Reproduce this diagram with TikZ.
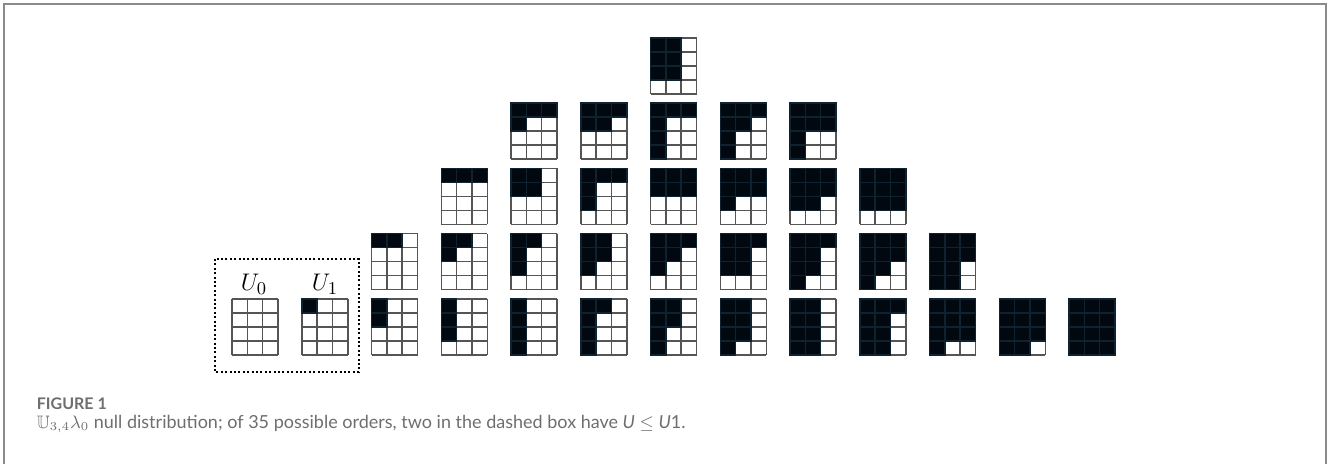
\documentclass[tikz,border=0pt]{standalone}
\usepackage{amsmath,amssymb}
\usepackage[no-math]{fontspec}
\newfontfamily\capfont{Lato}
\usepackage{tikz}

\definecolor{framegray}{HTML}{8A8A8A}
\definecolor{gridgray}{HTML}{555555}
\definecolor{cellblack}{HTML}{020810}
\definecolor{cellnavy}{HTML}{0E2230}
\definecolor{capgray}{HTML}{6E6E6E}

\tikzset{
  cellline/.style={draw=gridgray,line width=.75pt},
  blackcell/.style={fill=cellblack,draw=cellnavy,line width=.75pt},
  dotbox/.style={line width=1pt,dash pattern=on 1pt off 1.2pt},
}

\begin{document}
\begin{tikzpicture}[x=.5pt,y=-.5pt,line join=miter]
    \useasboundingbox (0,0) rectangle (1329,464);
    % open frame round the figure (no bottom edge)
    \draw[framegray,line width=1pt] (4,470) -- (4,4) -- (1326,4) -- (1326,470);

    % one 3x4 box per order: column = U, level = stack height,
    % the last three numbers are the black column heights
    \foreach \k/\lev/\ha/\hb/\hc in {0/0/0/0/0, 1/0/1/0/0,
        2/0/2/0/0, 2/1/1/1/0,
        3/0/3/0/0, 3/1/2/1/0, 3/2/1/1/1,
        4/0/4/0/0, 4/1/3/1/0, 4/2/2/2/0, 4/3/2/1/1,
        5/0/4/1/0, 5/1/3/2/0, 5/2/3/1/1, 5/3/2/2/1,
        6/0/4/2/0, 6/1/3/2/1, 6/2/2/2/2, 6/3/4/1/1, 6/4/3/3/0,
        7/0/4/3/0, 7/1/3/3/1, 7/2/3/2/2, 7/3/4/2/1,
        8/0/4/4/0, 8/1/4/3/1, 8/2/3/3/2, 8/3/4/2/2,
        9/0/4/4/1, 9/1/4/3/2, 9/2/3/3/3,
        10/0/4/3/3, 10/1/4/4/2,
        11/0/4/4/3,
        12/0/4/4/4}{
      \begin{scope}[shift={({232+69.75*\k},{299-65.25*\lev})},x=7.667pt,y=-7pt]
        \foreach \i in {0,...,3}
          \draw[cellline] (\i,0) -- (\i,4);
        \foreach \j in {0,...,4}
          \draw[cellline] (0,\j) -- (3,\j);
        \foreach \c/\h in {0/\ha,1/\hb,2/\hc}{
          \ifnum\h>0
            \foreach \r in {1,...,\h}
              \filldraw[blackcell] (\c,\r-1) rectangle (\c+1,\r);
          \fi}
      \end{scope}}

    % the two orders with U <= U1
    \draw[dotbox] (215,259) rectangle (359,372);
    \node[anchor=base,inner sep=0pt,font=\fontsize{13}{15}\selectfont]
      (labU0) at (254,291) {$U_0$};
    \node[anchor=base,inner sep=0pt,font=\fontsize{13}{15}\selectfont]
      (labU1) at (325,291) {$U_1$};

    % caption
    \node[anchor=base west,inner sep=0pt,text=capgray,
      font=\capfont\bfseries\fontsize{8}{9}\selectfont]
      (capTitle) at (36.5,409.5) {FIGURE 1};
    \node[anchor=base west,inner sep=0pt,text=capgray,
      font=\capfont\fontsize{9}{11}\selectfont]
      (capText) at (36.5,429) {$\mathbb{U}_{3,4}\lambda_0$ null distribution; of 35
      possible orders, two in the dashed box have \textit{U} $\leq$ \textit{U}1.};
  \end{tikzpicture}
\end{document}
